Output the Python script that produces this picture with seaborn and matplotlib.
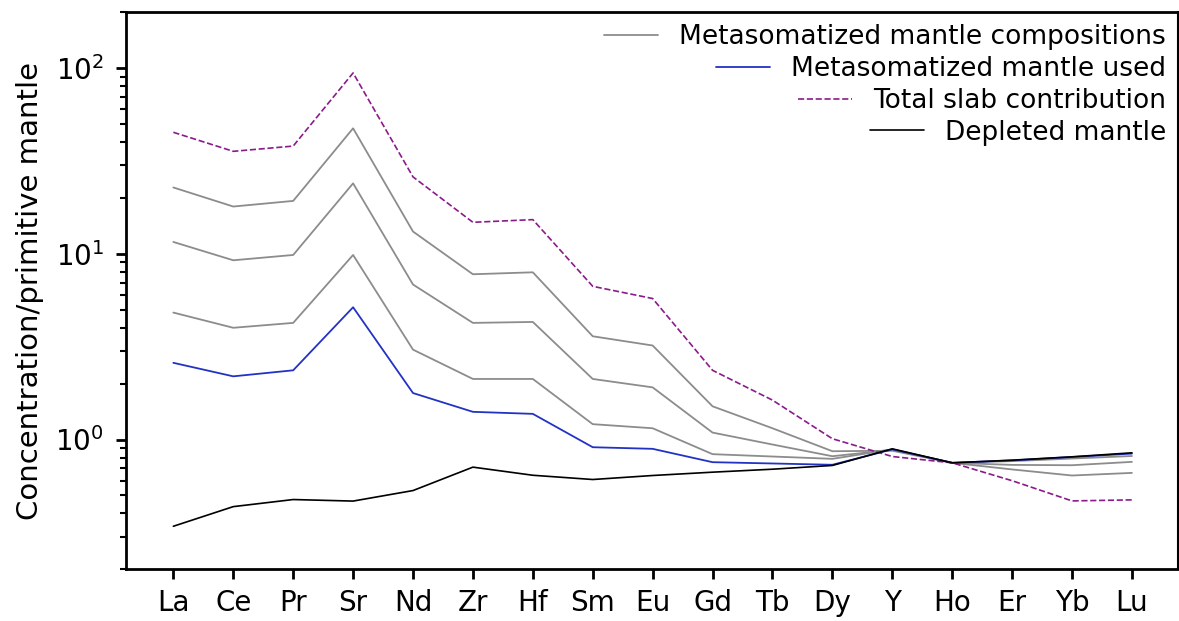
import numpy as np
import pandas as pd
import matplotlib
matplotlib.use("Agg")
import matplotlib.pyplot as plt
import seaborn as sns

# Trace elements, ordered for the spider diagram
elements = ["La", "Ce", "Pr", "Sr", "Nd", "Zr", "Hf", "Sm", "Eu", "Gd",
            "Tb", "Dy", "Y", "Ho", "Er", "Yb", "Lu"]

# Metasomatized mantle compositions (normalised to primitive mantle)
meta_1 = [22.8, 18.0, 19.3, 47.5, 13.2, 7.77, 7.96, 3.60, 3.21, 1.51,
          1.15, 0.865, 0.87, 0.749, 0.69, 0.64, 0.661]
meta_2 = [11.6, 9.24, 9.87, 24.0, 6.84, 4.25, 4.30, 2.12, 1.91, 1.09,
          0.94, 0.813, 0.88, 0.749, 0.73, 0.727, 0.758]
meta_3 = [4.83, 4.0, 4.25, 9.87, 3.05, 2.12, 2.12, 1.21, 1.15, 0.834,
          0.81, 0.787, 0.885, 0.749, 0.765, 0.79, 0.815]

# Composition adopted for the models
meta_used = [2.59, 2.19, 2.36, 5.16, 1.78, 1.41, 1.375, 0.909, 0.891, 0.755,
             0.743, 0.731, 0.885, 0.749, 0.772, 0.805, 0.84]

# Total slab contribution
slab = [45.2, 35.7, 38.1, 94.4, 26.0, 14.8, 15.3, 6.69, 5.75, 2.36,
        1.63, 1.01, 0.81, 0.749, 0.60, 0.467, 0.473]

# Depleted mantle
depleted = [0.341, 0.435, 0.475, 0.466, 0.531, 0.710, 0.642, 0.609, 0.640, 0.667,
            0.692, 0.725, 0.891, 0.749, 0.774, 0.807, 0.848]

sns.set_style("ticks")
plt.rcParams["font.family"] = ["DejaVu Sans"]
plt.rcParams.update({
    "text.color": "black",
    "axes.labelcolor": "black",
    "axes.edgecolor": "black",
    "xtick.color": "black",
    "ytick.color": "black",
})

fig = plt.figure(figsize=(11.79, 6.21), dpi=100)
ax = fig.add_axes([0.1069, 0.0833, 0.8923, 0.8967])

x = np.arange(len(elements))

for i, series in enumerate([meta_1, meta_2, meta_3]):
    df = pd.DataFrame({"x": x, "y": series})
    sns.lineplot(data=df, x="x", y="y", ax=ax, color="#8c8c8c", lw=1.3,
                 label="Metasomatized mantle compositions" if i == 0 else None)

sns.lineplot(data=pd.DataFrame({"x": x, "y": meta_used}), x="x", y="y", ax=ax,
             color="#2233c4", lw=1.3, label="Metasomatized mantle used")
sns.lineplot(data=pd.DataFrame({"x": x, "y": slab}), x="x", y="y", ax=ax,
             color="#8b1a8b", lw=1.2, linestyle="--", label="Total slab contribution")
sns.lineplot(data=pd.DataFrame({"x": x, "y": depleted}), x="x", y="y", ax=ax,
             color="black", lw=1.2, label="Depleted mantle")

ax.set_yscale("log")
ax.set_ylim(0.2, 200)
ax.set_xlim(-0.79, 16.77)
ax.set_xticks(x)
ax.set_xticklabels(elements)
ax.set_xlabel("")
ax.set_ylabel("Concentration/primitive mantle", fontsize=21, labelpad=8)

for side in ["left", "bottom", "top", "right"]:
    ax.spines[side].set_linewidth(2)
ax.spines["right"].set_linewidth(1.5)
ax.tick_params(axis="both", which="major", length=7, width=2, labelsize=20)
ax.tick_params(axis="x", which="major", pad=7)
ax.tick_params(axis="y", which="major", pad=9)
ax.tick_params(axis="y", which="minor", length=4, width=1.5)

leg = ax.legend(loc="upper right", frameon=False, fontsize=19,
                handlelength=2.05, borderaxespad=0.0, borderpad=0.45,
                labelspacing=0.22, handletextpad=0.8)
# right-align each legend row while keeping the line sample before its label
for column in leg._legend_handle_box.get_children():
    column.align = "right"

fig.savefig("out.png", dpi=100)
